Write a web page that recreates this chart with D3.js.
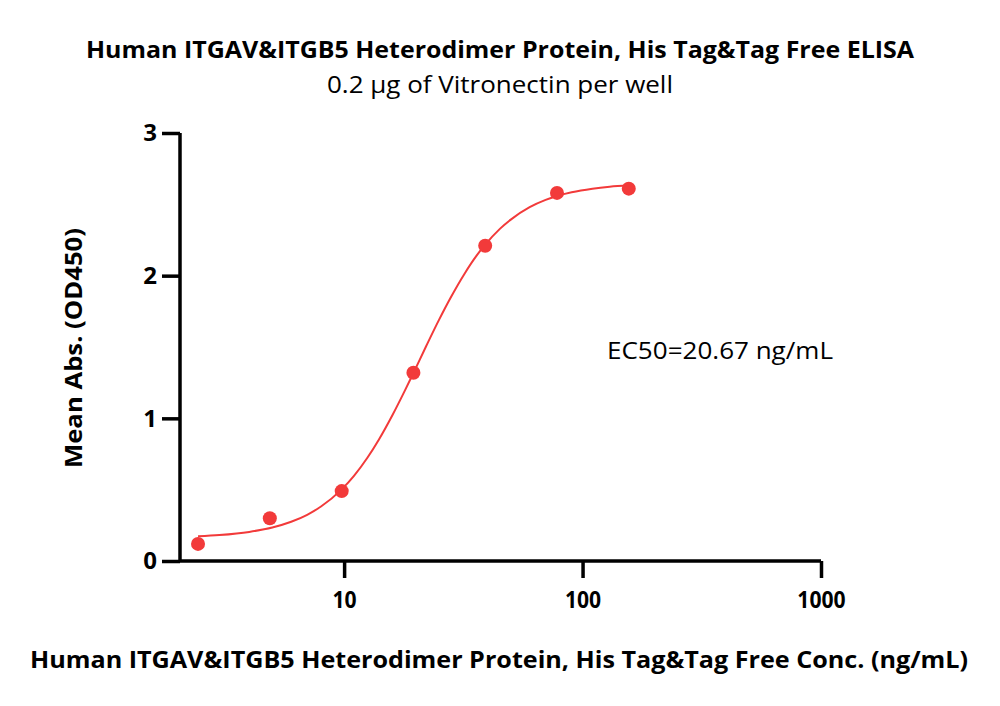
<!DOCTYPE html>
<html lang="en">
<head>
    <meta charset="utf-8">
    <title>ITGAV&ITGB5 ELISA</title>
    <script src="https://d3js.org/d3.v7.min.js"></script>
    <style type="text/css">
        body{
            margin: 0;
            background: #fff;
        }
        svg{
            font-family: "Open Sans", Lato, sans-serif;
        }
        .bold{
            font-weight: bold;
        }
    </style>
</head>
<body>
    <svg id="chart" width="1000" height="706"></svg>

    <script type="text/javascript">

        // measured points (ng/mL, OD450)
        const conc = [2.44, 4.88, 9.77, 19.53, 39.06, 78.125, 156.25];
        const od = [0.12, 0.30, 0.49, 1.32, 2.21, 2.58, 2.61];

        // fitted curve
        const fitConc = [2.44, 3, 4, 5, 6, 7, 8, 9.77, 11, 12.5, 14, 16, 18, 19.53, 22, 25, 28, 32, 36, 39.06, 45, 50, 60, 70, 78.125, 90, 110, 130, 156.25];
        const fitOd = [0.173, 0.182, 0.204, 0.235, 0.275, 0.324, 0.382, 0.502, 0.597, 0.722, 0.852, 1.027, 1.196, 1.318, 1.500, 1.690, 1.847, 2.014, 2.142, 2.217, 2.328, 2.393, 2.480, 2.531, 2.558, 2.584, 2.609, 2.623, 2.633];

        const yTicks = [0, 1, 2, 3];
        const xTicks = [10, 100, 1000];

        const red = "#f23a3a";
        const svg = d3.select("#chart");

        const x = d3.scaleLog()
            .domain([2.05, 1000])
            .range([180, 821]);

        const y = d3.scaleLinear()
            .domain([0, 3])
            .range([561, 133]);

        // axes
        const yAxis = svg.append("g")
            .attr("transform", "translate(180,0)")
            .call(d3.axisLeft(y).tickValues(yTicks).tickSize(18).tickPadding(5).tickFormat(d3.format("d")));

        const xAxis = svg.append("g")
            .attr("transform", "translate(0,561)")
            .call(d3.axisBottom(x).tickValues(xTicks).tickSize(17).tickPadding(13).tickFormat(d3.format("d")));

        [yAxis, xAxis].forEach(g => {
            g.select(".domain").attr("stroke", "#000").attr("stroke-width", 3.5);
            g.selectAll(".tick line").attr("stroke", "#000").attr("stroke-width", 3.5);
            g.selectAll(".tick text")
                .attr("fill", "#000")
                .attr("font-size", 24)
                .attr("font-weight", "bold")
                .attr("font-family", "'Open Sans', sans-serif");
        });
        // drop the outer ticks d3 adds so only a plain line is left
        yAxis.select(".domain").attr("d", "M0,561V133");
        xAxis.select(".domain").attr("d", "M180,0H821");
        xAxis.selectAll(".tick text").attr("textLength", function() { return this.getComputedTextLength() * 0.88; })
            .attr("lengthAdjust", "spacingAndGlyphs");

        // fit curve
        const line = d3.line()
            .x((d, i) => x(fitConc[i]))
            .y(d => y(d))
            .curve(d3.curveMonotoneX);

        svg.append("path")
            .datum(fitOd)
            .attr("d", line)
            .attr("fill", "none")
            .attr("stroke", red)
            .attr("stroke-width", 2);

        svg.selectAll("circle")
            .data(od)
            .enter()
            .append("circle")
            .attr("cx", (d, i) => x(conc[i]))
            .attr("cy", d => y(d))
            .attr("r", 7)
            .attr("fill", red);

        // texts
        svg.append("text")
            .attr("class", "bold")
            .attr("x", 500)
            .attr("y", 58)
            .attr("text-anchor", "middle")
            .attr("font-size", 23)
            .attr("textLength", 828)
            .attr("lengthAdjust", "spacingAndGlyphs")
            .text("Human ITGAV&ITGB5 Heterodimer Protein, His Tag&Tag Free ELISA");

        svg.append("text")
            .attr("x", 500)
            .attr("y", 93)
            .attr("text-anchor", "middle")
            .attr("font-size", 23)
            .attr("textLength", 346)
            .attr("lengthAdjust", "spacingAndGlyphs")
            .text("0.2 µg of Vitronectin per well");

        svg.append("text")
            .attr("x", 607)
            .attr("y", 359)
            .attr("font-size", 23)
            .attr("textLength", 226)
            .attr("lengthAdjust", "spacingAndGlyphs")
            .text("EC50=20.67 ng/mL");

        svg.append("text")
            .attr("class", "bold")
            .attr("transform", "translate(82,348) rotate(-90)")
            .attr("text-anchor", "middle")
            .attr("font-size", 24)
            .attr("textLength", 240)
            .attr("lengthAdjust", "spacingAndGlyphs")
            .text("Mean Abs. (OD450)");

        svg.append("text")
            .attr("class", "bold")
            .attr("x", 499)
            .attr("y", 668)
            .attr("text-anchor", "middle")
            .attr("font-size", 24)
            .attr("textLength", 938)
            .attr("lengthAdjust", "spacingAndGlyphs")
            .text("Human ITGAV&ITGB5 Heterodimer Protein, His Tag&Tag Free Conc. (ng/mL)");
    </script>
</body>
</html>
